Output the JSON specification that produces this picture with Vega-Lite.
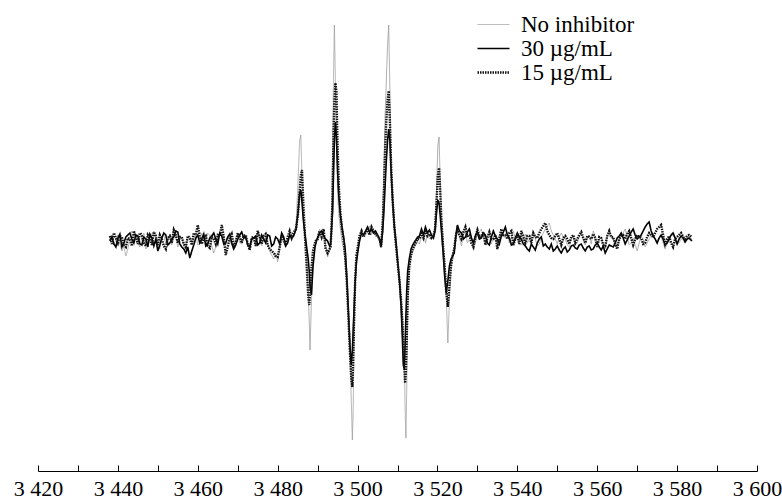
{
  "$schema": "https://vega.github.io/schema/vega-lite/v6.json",
  "width": 719,
  "height": 461,
  "autosize": "none",
  "padding": {"left": 38, "top": 10, "right": 25, "bottom": 32},
  "background": "white",
  "config": {"view": {"stroke": null}},
  "data": {"values": [
    {"x":3438,"g":2,"t":0,"d":5},{"x":3438.5,"g":6,"t":4,"d":-3},{"x":3439,"g":-4,"t":-3,"d":8},{"x":3439.5,"g":2,"t":-6,"d":3},
    {"x":3440,"g":6,"t":3,"d":-2},{"x":3440.5,"g":-3,"t":7,"d":5},{"x":3441,"g":-10,"t":-6,"d":4},{"x":3441.5,"g":-5,"t":-2,"d":-4},
    {"x":3442,"g":-15,"t":4,"d":-6},{"x":3442.5,"g":-8,"t":6,"d":3},{"x":3443,"g":3,"t":8,"d":2},{"x":3443.5,"g":10,"t":2,"d":-5},
    {"x":3444,"g":8,"t":-2,"d":10},{"x":3444.5,"g":3,"t":6,"d":4},{"x":3445,"g":-2,"t":5,"d":-3},{"x":3445.5,"g":-6,"t":-3,"d":8},
    {"x":3446,"g":5,"t":-4,"d":6},{"x":3446.5,"g":8,"t":4,"d":-2},{"x":3447,"g":-8,"t":2,"d":-5},{"x":3447.5,"g":-3,"t":-6,"d":6},
    {"x":3448,"g":2,"t":7,"d":3},{"x":3448.5,"g":7,"t":3,"d":-4},{"x":3449,"g":10,"t":-5,"d":9},{"x":3449.5,"g":4,"t":2,"d":5},
    {"x":3450,"g":-5,"t":-10,"d":-4},{"x":3450.5,"g":-8,"t":-4,"d":6},{"x":3451,"g":4,"t":3,"d":2},{"x":3451.5,"g":6,"t":8,"d":-5},
    {"x":3452,"g":-3,"t":6,"d":-8},{"x":3452.5,"g":2,"t":-4,"d":3},{"x":3453,"g":7,"t":-2,"d":5},{"x":3453.5,"g":-4,"t":2,"d":-2},
    {"x":3454,"g":12,"t":4,"d":11},{"x":3454.5,"g":5,"t":10,"d":6},{"x":3455,"g":-6,"t":9,"d":-2},{"x":3455.5,"g":2,"t":-3,"d":4},
    {"x":3456,"g":3,"t":-6,"d":4},{"x":3456.5,"g":-5,"t":-8,"d":-3},{"x":3457,"g":-9,"t":-12,"d":-6},{"x":3457.5,"g":4,"t":-6,"d":5},
    {"x":3458,"g":5,"t":-17,"d":3},{"x":3458.5,"g":-3,"t":-10,"d":-4},{"x":3459,"g":2,"t":-4,"d":8},{"x":3459.5,"g":6,"t":3,"d":6},
    {"x":3460,"g":-4,"t":6,"d":16},{"x":3460.5,"g":-2,"t":-2,"d":5},{"x":3461,"g":8,"t":2,"d":-3},{"x":3461.5,"g":3,"t":7,"d":3},
    {"x":3462,"g":-2,"t":-5,"d":5},{"x":3462.5,"g":8,"t":-3,"d":-5},{"x":3463,"g":6,"t":3,"d":-7},{"x":3463.5,"g":-5,"t":5,"d":4},
    {"x":3464,"g":-12,"t":8,"d":2},{"x":3464.5,"g":-6,"t":2,"d":-3},{"x":3465,"g":3,"t":-3,"d":6},{"x":3465.5,"g":6,"t":8,"d":5},
    {"x":3466,"g":9,"t":5,"d":16},{"x":3466.5,"g":2,"t":-3,"d":4},{"x":3467,"g":-4,"t":-2,"d":-14},{"x":3467.5,"g":5,"t":4,"d":-6},
    {"x":3468,"g":2,"t":7,"d":3},{"x":3468.5,"g":-4,"t":-2,"d":7},{"x":3469,"g":-7,"t":-8,"d":-5},{"x":3469.5,"g":3,"t":-4,"d":-2},
    {"x":3470,"g":6,"t":2,"d":8},{"x":3470.5,"g":-2,"t":6,"d":4},{"x":3471,"g":-3,"t":9,"d":-2},{"x":3471.5,"g":4,"t":3,"d":5},
    {"x":3472,"g":5,"t":4,"d":6},{"x":3472.5,"g":-3,"t":-4,"d":-3},{"x":3473,"g":-8,"t":-6,"d":-9},{"x":3473.5,"g":5,"t":2,"d":3},
    {"x":3474,"g":2,"t":3,"d":4},{"x":3474.5,"g":-4,"t":5,"d":-5},{"x":3475,"g":9,"t":-4,"d":10},{"x":3475.5,"g":3,"t":-2,"d":4},
    {"x":3476,"g":-5,"t":6,"d":-3},{"x":3476.5,"g":6,"t":2,"d":5},{"x":3477,"g":4,"t":-2,"d":7},{"x":3477.5,"g":-4,"t":6,"d":-4},
    {"x":3478,"g":-10,"t":5,"d":-8},{"x":3478.5,"g":-14,"t":-5,"d":-10},{"x":3479,"g":-18,"t":-3,"d":-12},{"x":3479.5,"g":-12,"t":4,"d":-15},
    {"x":3480,"g":-21,"t":2,"d":-16},{"x":3480.5,"g":-8,"t":-3,"d":-6},{"x":3481,"g":3,"t":8,"d":5},{"x":3481.5,"g":-2,"t":4,"d":2},
    {"x":3482,"g":-6,"t":-5,"d":-4},{"x":3482.5,"g":2,"t":-2,"d":4},{"x":3483,"g":5,"t":6,"d":10},{"x":3483.5,"g":8,"t":3,"d":3},
    {"x":3484,"g":10,"t":5,"d":8},
    {"x":3484.6,"g":15,"t":12,"d":12},{"x":3485.1,"g":60,"t":28,"d":28},{"x":3485.5,"g":100,"t":48,"d":50},{"x":3485.8,"g":106,"t":51,"d":66},
    {"x":3486.1,"g":60,"t":38,"d":71},{"x":3486.45,"g":21,"t":20,"d":35},{"x":3486.85,"g":6,"t":6,"d":4},{"x":3487.25,"g":-15,"t":-6,"d":-25},
    {"x":3487.65,"g":-50,"t":-18,"d":-55},{"x":3487.9,"g":-80,"t":-30,"d":-64},{"x":3488.1,"g":-109,"t":-45,"d":-52},{"x":3488.45,"g":-60,"t":-54,"d":-28},
    {"x":3488.85,"g":-25,"t":-25,"d":-10},{"x":3489.35,"g":-5,"t":-6,"d":-2},{"x":3489.7,"g":0,"t":0,"d":2},
    {"x":3490.0,"g":5,"t":3,"d":2},{"x":3490.5,"g":12,"t":8,"d":10},{"x":3491.0,"g":6,"t":10,"d":4},{"x":3491.5,"g":8,"t":5,"d":12},
    {"x":3492.0,"g":-5,"t":2,"d":-8},{"x":3492.5,"g":-16,"t":0,"d":-12},
    {"x":3493.0,"g":-10,"t":-5,"d":-8},{"x":3493.25,"g":-5,"t":-3,"d":-6},{"x":3493.5,"g":30,"t":12,"d":15},{"x":3493.75,"g":90,"t":30,"d":45},
    {"x":3494.0,"g":170,"t":70,"d":110},{"x":3494.2,"g":216,"t":100,"d":140},{"x":3494.45,"g":160,"t":119,"d":158},{"x":3494.7,"g":100,"t":105,"d":150},
    {"x":3495.0,"g":50,"t":70,"d":95},{"x":3495.3,"g":26,"t":45,"d":55},{"x":3495.7,"g":12,"t":26,"d":28},{"x":3496.1,"g":0,"t":14,"d":12},
    {"x":3496.5,"g":-8,"t":4,"d":2},{"x":3496.9,"g":-22,"t":-8,"d":-15},{"x":3497.3,"g":-40,"t":-35,"d":-40},{"x":3497.7,"g":-68,"t":-70,"d":-75},
    {"x":3498.1,"g":-110,"t":-105,"d":-112},{"x":3498.4,"g":-155,"t":-124,"d":-135},{"x":3498.7,"g":-199,"t":-110,"d":-146},{"x":3498.9,"g":-170,"t":-90,"d":-120},
    {"x":3499.1,"g":-110,"t":-70,"d":-85},{"x":3499.4,"g":-45,"t":-40,"d":-40},{"x":3499.7,"g":-20,"t":-22,"d":-15},{"x":3500.1,"g":-7,"t":-10,"d":-5},
    {"x":3500.5,"g":3,"t":0,"d":5},{"x":3501.0,"g":12,"t":8,"d":10},
    {"x":3501.5,"g":5,"t":6,"d":4},{"x":3502.0,"g":11,"t":10,"d":8},{"x":3502.5,"g":8,"t":14,"d":12},{"x":3503.0,"g":15,"t":9,"d":6},
    {"x":3503.5,"g":6,"t":12,"d":14},{"x":3504.0,"g":12,"t":8,"d":10},{"x":3504.5,"g":4,"t":10,"d":7},{"x":3505.0,"g":8,"t":6,"d":5},
    {"x":3505.5,"g":0,"t":2,"d":2},
    {"x":3505.9,"g":-7,"t":-5,"d":-6},{"x":3506.3,"g":26,"t":10,"d":18},{"x":3506.6,"g":75,"t":30,"d":50},{"x":3506.9,"g":126,"t":55,"d":90},
    {"x":3507.2,"g":160,"t":80,"d":120},{"x":3507.5,"g":195,"t":100,"d":140},{"x":3507.8,"g":216,"t":112,"d":150},{"x":3508.1,"g":150,"t":100,"d":120},
    {"x":3508.4,"g":59,"t":70,"d":75},{"x":3508.8,"g":30,"t":40,"d":40},{"x":3509.2,"g":10,"t":15,"d":15},{"x":3509.6,"g":-5,"t":0,"d":-3},
    {"x":3510.05,"g":-24,"t":-20,"d":-22},{"x":3510.5,"g":-40,"t":-40,"d":-40},{"x":3510.9,"g":-57,"t":-65,"d":-60},{"x":3511.2,"g":-72,"t":-95,"d":-80},
    {"x":3511.45,"g":-90,"t":-124,"d":-100},{"x":3511.7,"g":-120,"t":-128,"d":-125},{"x":3511.9,"g":-165,"t":-105,"d":-142},{"x":3512.1,"g":-197,"t":-75,"d":-130},
    {"x":3512.3,"g":-150,"t":-50,"d":-100},{"x":3512.55,"g":-74,"t":-30,"d":-55},{"x":3512.95,"g":-27,"t":-18,"d":-25},{"x":3513.4,"g":-15,"t":-8,"d":-14},
    {"x":3513.8,"g":-11,"t":-4,"d":-8},{"x":3514.4,"g":-5,"t":0,"d":-3},{"x":3515.05,"g":-1,"t":4,"d":2},
    {"x":3515.5,"g":-3,"t":5,"d":2},{"x":3516.0,"g":4,"t":12,"d":8},{"x":3516.5,"g":8,"t":6,"d":3},{"x":3517.0,"g":-2,"t":14,"d":10},
    {"x":3517.5,"g":6,"t":8,"d":5},{"x":3518.0,"g":2,"t":11,"d":7},{"x":3518.5,"g":4,"t":6,"d":3},
    {"x":3519.0,"g":5,"t":3,"d":5},{"x":3519.4,"g":15,"t":10,"d":12},{"x":3519.8,"g":55,"t":30,"d":40},{"x":3520.1,"g":95,"t":41,"d":65},
    {"x":3520.4,"g":104,"t":38,"d":73},{"x":3520.7,"g":60,"t":25,"d":50},{"x":3521.0,"g":25,"t":10,"d":20},{"x":3521.4,"g":2,"t":-10,"d":-5},
    {"x":3521.8,"g":-25,"t":-35,"d":-25},{"x":3522.2,"g":-55,"t":-52,"d":-50},{"x":3522.6,"g":-102,"t":-40,"d":-66},{"x":3523.0,"g":-60,"t":-25,"d":-45},
    {"x":3523.4,"g":-25,"t":-18,"d":-25},{"x":3523.8,"g":-12,"t":-15,"d":-15},{"x":3524.2,"g":-8,"t":-12,"d":-8},{"x":3524.6,"g":0,"t":5,"d":5},
    {"x":3525,"g":14,"t":16,"d":12},{"x":3525.5,"g":4,"t":10,"d":6},{"x":3526,"g":-5,"t":8,"d":2},{"x":3526.5,"g":6,"t":2,"d":9},
    {"x":3527,"g":10,"t":4,"d":14},{"x":3527.5,"g":-2,"t":9,"d":5},{"x":3528,"g":2,"t":12,"d":6},{"x":3528.5,"g":6,"t":3,"d":-2},
    {"x":3529,"g":-8,"t":-2,"d":-6},{"x":3529.5,"g":-2,"t":5,"d":4},{"x":3530,"g":6,"t":9,"d":11},{"x":3530.5,"g":9,"t":2,"d":4},
    {"x":3531,"g":12,"t":3,"d":5},{"x":3531.5,"g":4,"t":8,"d":9},{"x":3532,"g":-3,"t":6,"d":-4},{"x":3532.5,"g":5,"t":-2,"d":3},
    {"x":3533,"g":8,"t":-4,"d":9},{"x":3533.5,"g":-3,"t":4,"d":2},{"x":3534,"g":3,"t":10,"d":2},{"x":3534.5,"g":7,"t":5,"d":6},
    {"x":3535,"g":-6,"t":2,"d":-8},{"x":3535.5,"g":2,"t":-3,"d":3},{"x":3536,"g":9,"t":5,"d":12},{"x":3536.5,"g":4,"t":9,"d":6},
    {"x":3537,"g":4,"t":14,"d":6},{"x":3537.5,"g":8,"t":6,"d":2},{"x":3538,"g":-2,"t":3,"d":8},{"x":3538.5,"g":4,"t":-4,"d":10},
    {"x":3539,"g":10,"t":-3,"d":-4},{"x":3539.5,"g":2,"t":3,"d":2},{"x":3540,"g":5,"t":8,"d":6},{"x":3540.5,"g":-3,"t":4,"d":-3},
    {"x":3541,"g":-4,"t":2,"d":10},{"x":3541.5,"g":3,"t":-3,"d":4},{"x":3542,"g":7,"t":-5,"d":-2},{"x":3542.5,"g":-2,"t":-8,"d":5},
    {"x":3543,"g":2,"t":-10,"d":5},{"x":3543.5,"g":6,"t":-3,"d":-2},{"x":3544,"g":9,"t":-6,"d":8},{"x":3544.5,"g":2,"t":-9,"d":4},
    {"x":3545,"g":-5,"t":-2,"d":3},{"x":3545.5,"g":-3,"t":2,"d":8},{"x":3546,"g":4,"t":4,"d":12},{"x":3546.5,"g":8,"t":-5,"d":15},
    {"x":3547,"g":12,"t":-3,"d":18},{"x":3547.5,"g":15,"t":-6,"d":10},{"x":3548,"g":18,"t":-8,"d":6},{"x":3548.5,"g":10,"t":-3,"d":3},
    {"x":3549,"g":6,"t":-10,"d":2},{"x":3549.5,"g":2,"t":-8,"d":5},{"x":3550,"g":-3,"t":-5,"d":8},{"x":3550.5,"g":4,"t":-9,"d":2},
    {"x":3551,"g":8,"t":-12,"d":-4},{"x":3551.5,"g":3,"t":-8,"d":3},{"x":3552,"g":2,"t":-6,"d":5},{"x":3552.5,"g":-4,"t":-11,"d":2},
    {"x":3553,"g":-6,"t":-9,"d":-3},{"x":3553.5,"g":2,"t":-5,"d":4},{"x":3554,"g":5,"t":-4,"d":6},{"x":3554.5,"g":-4,"t":-7,"d":-2},
    {"x":3555,"g":-2,"t":-8,"d":2},{"x":3555.5,"g":4,"t":-4,"d":6},{"x":3556,"g":7,"t":-3,"d":9},{"x":3556.5,"g":2,"t":-7,"d":3},
    {"x":3557,"g":-4,"t":-10,"d":-2},{"x":3557.5,"g":3,"t":-6,"d":5},{"x":3558,"g":6,"t":-5,"d":4},{"x":3558.5,"g":-3,"t":-9,"d":2},
    {"x":3559,"g":10,"t":-8,"d":7},{"x":3559.5,"g":4,"t":-4,"d":3},{"x":3560,"g":-3,"t":-2,"d":-6},{"x":3560.5,"g":2,"t":-6,"d":4},
    {"x":3561,"g":4,"t":-9,"d":3},{"x":3561.5,"g":-3,"t":-5,"d":-4},{"x":3562,"g":-8,"t":-12,"d":-5},{"x":3562.5,"g":4,"t":-8,"d":5},
    {"x":3563,"g":9,"t":-4,"d":10},{"x":3563.5,"g":3,"t":-5,"d":4},{"x":3564,"g":2,"t":-6,"d":4},{"x":3564.5,"g":-4,"t":-2,"d":-3},
    {"x":3565,"g":-5,"t":3,"d":-8},{"x":3565.5,"g":2,"t":5,"d":2},{"x":3566,"g":6,"t":8,"d":5},{"x":3566.5,"g":8,"t":3,"d":6},
    {"x":3567,"g":12,"t":-3,"d":2},{"x":3567.5,"g":4,"t":1,"d":7},{"x":3568,"g":-4,"t":5,"d":10},{"x":3568.5,"g":-2,"t":9,"d":3},
    {"x":3569,"g":3,"t":12,"d":-4},{"x":3569.5,"g":-4,"t":6,"d":2},{"x":3570,"g":-10,"t":2,"d":6},{"x":3570.5,"g":-2,"t":4,"d":4},
    {"x":3571,"g":5,"t":6,"d":3},{"x":3571.5,"g":2,"t":10,"d":-3},{"x":3572,"g":-6,"t":14,"d":-2},{"x":3572.5,"g":-2,"t":17,"d":4},
    {"x":3573,"g":2,"t":19,"d":8},{"x":3573.5,"g":5,"t":10,"d":6},{"x":3574,"g":8,"t":5,"d":4},{"x":3574.5,"g":2,"t":2,"d":8},
    {"x":3575,"g":-3,"t":-2,"d":12},{"x":3575.5,"g":3,"t":3,"d":14},{"x":3576,"g":5,"t":6,"d":16},{"x":3576.5,"g":-2,"t":2,"d":6},
    {"x":3577,"g":-8,"t":-4,"d":-3},{"x":3577.5,"g":-2,"t":-2,"d":2},{"x":3578,"g":3,"t":2,"d":5},{"x":3578.5,"g":5,"t":6,"d":-2},
    {"x":3579,"g":6,"t":8,"d":-6},{"x":3579.5,"g":2,"t":3,"d":2},{"x":3580,"g":-4,"t":-3,"d":4},{"x":3580.5,"g":-2,"t":2,"d":6},
    {"x":3581,"g":2,"t":5,"d":8},{"x":3581.5,"g":2,"t":3,"d":4},{"x":3582,"g":-2,"t":-1,"d":2},{"x":3582.5,"g":2,"t":2,"d":5},
    {"x":3583,"g":4,"t":3,"d":6},{"x":3583.7,"g":2,"t":0,"d":4}
  ]},
  "transform": [{"fold": ["g", "t", "d"], "as": ["key", "v"]}],
  "mark": {"type": "line", "interpolate": "linear"},
  "encoding": {
    "x": {
      "field": "x", "type": "quantitative",
      "scale": {"domain": [3420, 3600], "nice": false, "zero": false},
      "axis": {
        "title": null, "grid": false,
        "values": [3420,3430,3440,3450,3460,3470,3480,3490,3500,3510,3520,3530,3540,3550,3560,3570,3580,3590,3600],
        "labelExpr": "datum.value % 20 == 0 ? floor(datum.value/1000) + ' ' + format(datum.value % 1000, '03d') : ''",
        "domainColor": "black", "domainWidth": 1,
        "tickColor": "black", "tickWidth": 1, "tickSize": -6,
        "labelFont": "Liberation Serif", "labelFontSize": 22, "labelColor": "black",
        "labelPadding": 13, "labelFlush": false, "labelOverlap": false
      }
    },
    "y": {
      "field": "v", "type": "quantitative",
      "scale": {"domain": [-230, 231], "nice": false, "zero": false},
      "axis": null
    },
    "color": {
      "field": "key", "type": "nominal",
      "scale": {"domain": ["g", "t", "d"], "range": ["#999999", "#000000", "#111111"]},
      "legend": {
        "title": null, "orient": "none", "legendX": 444, "legendY": 3,
        "symbolType": "M-1.6,0H1.6", "symbolSize": 400,
        "labelFont": "Liberation Serif", "labelFontSize": 23, "labelColor": "black",
        "labelOffset": 16, "rowPadding": 0,
        "labelExpr": "datum.label == 'g' ? 'No inhibitor' : datum.label == 't' ? '30 µg/mL' : '15 µg/mL'"
      }
    },
    "strokeWidth": {
      "field": "key", "type": "nominal",
      "scale": {"domain": ["g", "t", "d"], "range": [0.8, 2.4, 1.2]},
      "legend": null
    },
    "strokeDash": {
      "field": "key", "type": "nominal",
      "scale": {"domain": ["g", "t", "d"], "range": [[1, 0], [1, 0], [1.5, 1]]},
      "legend": null
    }
  }
}
